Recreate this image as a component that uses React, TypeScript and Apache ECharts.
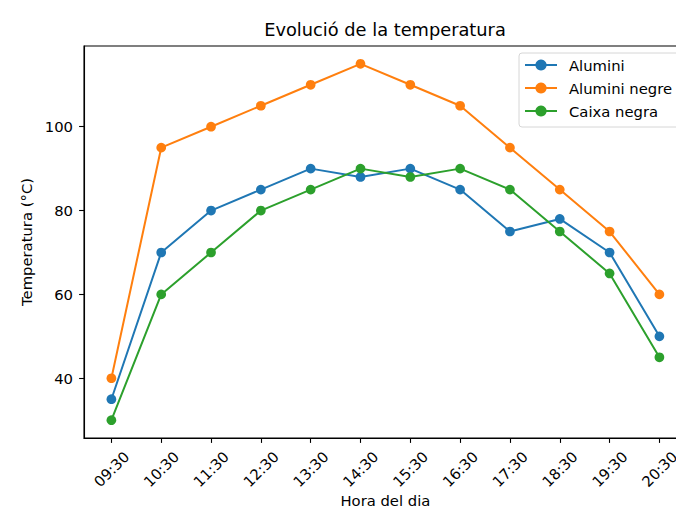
import React, { useEffect, useRef } from "react";
import * as echarts from "echarts";

const hours = ["09:30", "10:30", "11:30", "12:30", "13:30", "14:30", "15:30", "16:30", "17:30", "18:30", "19:30", "20:30"];
const alumini = [35, 70, 80, 85, 90, 88, 90, 85, 75, 78, 70, 50];
const aluminiNegre = [40, 95, 100, 105, 110, 115, 110, 105, 95, 85, 75, 60];
const caixaNegra = [30, 60, 70, 80, 85, 90, 88, 90, 85, 75, 65, 45];
const yTicks = [40, 60, 80, 100];
const seriesNames = ["Alumini", "Alumini negre", "Caixa negra"];
const colors = ["#1f77b4", "#ff7f0e", "#2ca02c"];

const FONT = "DejaVu Sans";
const FS = 14.8;

export default function App() {
  const ref = useRef<HTMLDivElement>(null);
  useEffect(() => {
    if (!ref.current) return;
    const chart = echarts.init(ref.current, undefined, { renderer: "svg" });
    const all = [alumini, aluminiNegre, caixaNegra];
    const xIdx = hours.map((_, i) => i);
    chart.setOption({
      animation: false,
      backgroundColor: "#ffffff",
      textStyle: { fontFamily: FONT },
      title: {
        text: "Evolució de la temperatura",
        left: 385,
        top: 20,
        textAlign: "center",
        padding: 0,
        textStyle: { fontFamily: FONT, fontSize: 17.8, fontWeight: "normal", color: "#000" },
      },
      legend: {
        data: seriesNames,
        orient: "vertical",
        left: 519,
        top: 53,
        padding: [4, 12, 8, 5],
        itemGap: 7,
        itemWidth: 32,
        itemHeight: 14,
        backgroundColor: "rgba(255,255,255,0.8)",
        borderColor: "#d6d6d6",
        borderWidth: 1,
        borderRadius: 3,
        textStyle: { fontFamily: FONT, fontSize: FS, color: "#000", padding: [0, 0, 0, 7], lineHeight: 16 },
      },
      grid: {
        left: 84,
        top: 46,
        width: 602.8,
        height: 392,
        show: true,
        borderColor: "#000",
        borderWidth: 1.1,
        backgroundColor: "transparent",
        containLabel: false,
        outerBoundsMode: "none",
      },
      xAxis: {
        type: "value",
        min: -0.55,
        max: 11.55,
        name: "Hora del dia",
        nameLocation: "middle",
        nameGap: 54,
        nameMoveOverlap: false,
        nameTextStyle: { fontFamily: FONT, fontSize: FS, color: "#000", verticalAlign: "top", lineHeight: 16 },
        splitLine: { show: false },
        axisLine: { show: true, onZero: false, lineStyle: { color: "#000", width: 1.1 } },
        axisTick: { show: true, length: 4.9, customValues: xIdx, lineStyle: { color: "#000", width: 1.1 } },
        axisLabel: {
          customValues: xIdx,
          rotate: 45,
          align: "center",
          verticalAlign: "middle",
          margin: 31,
          fontFamily: FONT,
          fontSize: FS,
          color: "#000",
          formatter: (v: number) => hours[Math.round(v)] ?? "",
        },
      },
      yAxis: {
        type: "value",
        min: 25.75,
        max: 119.25,
        name: "Temperatura (°C)",
        nameLocation: "middle",
        nameGap: 50,
        nameMoveOverlap: false,
        nameTextStyle: { fontFamily: FONT, fontSize: FS, color: "#000" },
        splitLine: { show: false },
        axisLine: { show: true, onZero: false, lineStyle: { color: "#000", width: 1.1 } },
        axisTick: { show: true, length: 4.9, customValues: yTicks, lineStyle: { color: "#000", width: 1.1 } },
        axisLabel: {
          customValues: yTicks,
          margin: 11,
          fontFamily: FONT,
          fontSize: FS,
          color: "#000",
        },
      },
      series: seriesNames.map((name, k) => ({
        name,
        type: "line",
        data: all[k].map((v, i) => [i, v]),
        symbol: "circle",
        symbolSize: 9.7,
        showSymbol: true,
        color: colors[k],
        itemStyle: { color: colors[k] },
        lineStyle: { color: colors[k], width: 2 },
        z: 2 + k,
      })),
    });
    return () => chart.dispose();
  }, []);
  return (
    <div style={{ position: "fixed", left: 0, top: 0, width: 676, height: 508, overflow: "hidden", background: "#fff" }}>
      <div ref={ref} style={{ width: 700, height: 508 }} />
    </div>
  );
}
